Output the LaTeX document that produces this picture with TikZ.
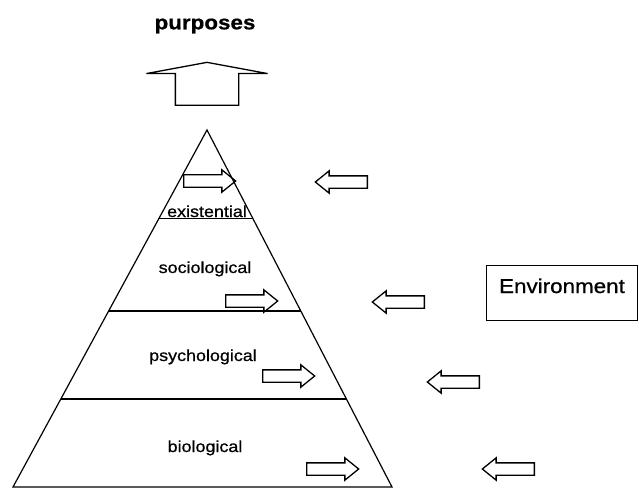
\documentclass[tikz,border=0pt]{standalone}
\usepackage{fontspec}
\newfontfamily\lblfont[FakeStretch=1.12,FakeBold=0.7]{Liberation Sans}
\usetikzlibrary{calc,positioning,shapes.arrows}

\tikzset{
  pyr/.style={line width=1.2pt},
  level label/.style={font=\lblfont\fontsize{16}{18}\selectfont, inner sep=0pt, anchor=base},
  block arrow/.style={single arrow, draw, line width=1.3pt, inner sep=0pt,
    text height=5.5pt, text depth=5.5pt, anchor=tail,
    minimum height=52pt, single arrow head extend=5pt,
    single arrow tip angle=78, single arrow head indent=0pt},
  in arrow/.style={block arrow},
  out arrow/.style={block arrow, shape border rotate=180}
}

\begin{document}
\begin{tikzpicture}[x=1pt,y=-1pt]
  \useasboundingbox (0,0) rectangle (639,489);

  % title and big arrow
  \node[font=\lblfont\bfseries\fontsize{20}{22}\selectfont, inner sep=0pt] (purp) at (205,26) {purposes};
  \node[
    single arrow,
    draw,
    line width=1.3pt,
    inner sep=0pt,
    text width=62pt,
    text height=0pt,
    text depth=0pt,
    shape border rotate=90,
    anchor=tail,
    minimum height=43pt,
    single arrow head extend=29pt,
    single arrow tip angle=159,
    single arrow head indent=0pt
  ] (up) at (207,106) {};

  % pyramid
  \coordinate (apex) at (207,130);
  \coordinate (bl) at (13,487);
  \coordinate (br) at (392,487);
  \draw[pyr] (apex) -- (bl) -- (br) -- cycle;
  \foreach \t in {0.249,0.507,0.7535}
    \draw[pyr] ($(apex)!\t!(bl)$) -- ($(apex)!\t!(br)$);

  \node[level label] (exi) at (207,217) {existential};
  \node[level label] (soc) at (205,273) {sociological};
  \node[level label] (psy) at (203,361) {psychological};
  \node[level label] (bio) at (205,452) {biological};

  % arrows inside
  \node[in arrow] (a1) at (183,181) {};
  \node[in arrow] (a2) at (225,301) {};
  \node[in arrow] (a3) at (262,376) {};
  \node[in arrow] (a4) at (306,469) {};

  % arrows from outside
  \node[out arrow] (b1) at (368,182) {};
  \node[out arrow] (b2) at (425,302) {};
  \node[out arrow] (b3) at (480,382) {};
  \node[out arrow] (b4) at (535,469) {};

  \node[
    draw,
    line width=1pt,
    anchor=north west,
    inner sep=0pt,
    minimum width=151pt,
    minimum height=55pt,
    text height=15pt,
    text depth=15pt,
    font=\lblfont\fontsize{20}{22}\selectfont
  ] (env) at (486,265) {Environment};
\end{tikzpicture}
\end{document}
